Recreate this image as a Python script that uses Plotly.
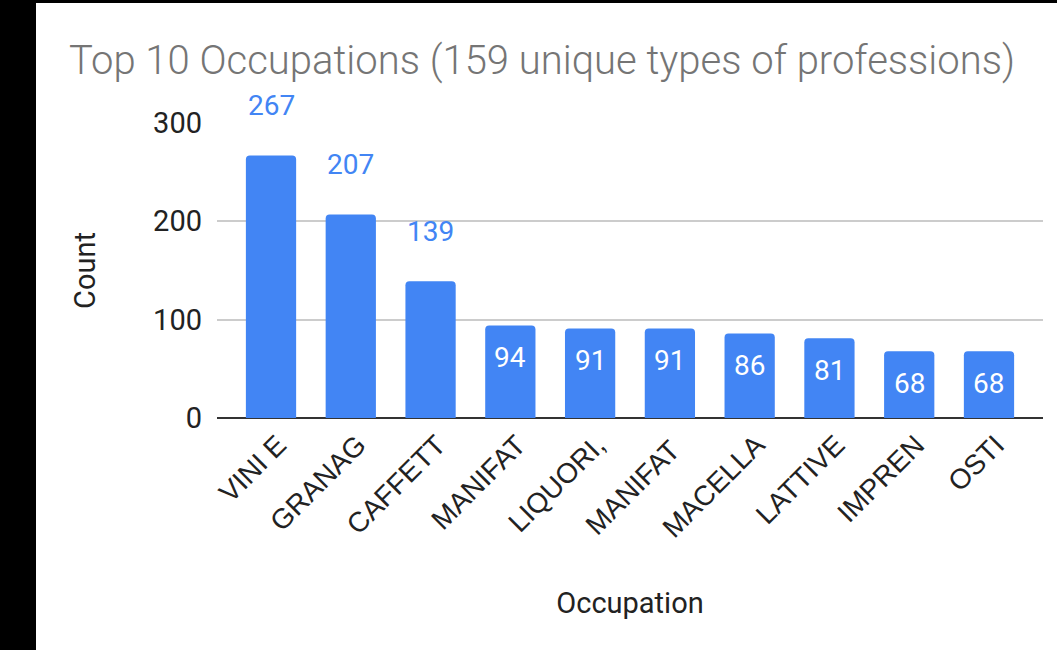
import plotly.graph_objects as go

categories = ["VINI E", "GRANAG", "CAFFETT", "MANIFAT", "LIQUORI,", "MANIFAT ", "MACELLA", "LATTIVE", "IMPREN", "OSTI"]
counts = [267, 207, 139, 94, 91, 91, 86, 81, 68, 68]
y_ticks = [0, 100, 200, 300]

BLUE = "#4285F4"
INSIDE_MIN = 100  # values below this get their label inside the bar

fig = go.Figure()
fig.add_trace(go.Bar(
    x=categories, y=counts,
    marker=dict(color=BLUE, cornerradius=4, line=dict(width=0)),
    width=0.63,
    hoverinfo="x+y",
))

annotations = []
for c, v in zip(categories, counts):
    inside = v < INSIDE_MIN
    annotations.append(dict(
        x=c, y=v, xref="x", yref="y", text=str(v), showarrow=False,
        yanchor="middle", xanchor="center",
        yshift=-32 if inside else 50,
        font=dict(family="Roboto", size=28, color="white" if inside else BLUE),
    ))

fig.update_layout(
    width=1057, height=650,
    paper_bgcolor="black", plot_bgcolor="white",
    margin=dict(l=217, r=14, t=123, b=232),
    title=dict(
        text="Top 10 Occupations (159 unique types of professions)",
        x=69/1057, xanchor="left", xref="container",
        y=1-60/650, yanchor="middle", yref="container",
        font=dict(family="Roboto", size=40, color="#757575", weight=300),
    ),
    showlegend=False,
    annotations=annotations,
    shapes=[dict(type="rect", xref="paper", yref="paper", layer="below",
                 x0=(36-217)/826, x1=2,
                 y0=-1, y1=(650-3-232)/295,
                 fillcolor="white", line=dict(width=0))],
)

fig.update_xaxes(
    range=[-0.677, 9.677],
    tickangle=-45,
    tickfont=dict(family="Liberation Sans", size=28, color="#222"),
    showgrid=False, zeroline=False, showline=False,
    ticks="", ticklabelstandoff=4, ticklabelshift=7,
    title=dict(text="Occupation", standoff=50,
               font=dict(family="Roboto", size=29, color="#222")),
    automargin=False,
)
fig.update_yaxes(
    range=[0, 300],
    tickvals=y_ticks,
    tickfont=dict(family="Roboto", size=29, color="#222"),
    showgrid=True, gridcolor="#cccccc", gridwidth=1.5,
    zeroline=True, zerolinecolor="#333333", zerolinewidth=2,
    showline=False, ticks="", ticklabelstandoff=14,
    title=dict(text="Count", standoff=48,
               font=dict(family="Roboto", size=29, color="#222")),
    automargin=False,
)

fig.write_html(
    "out.html",
    config={"displayModeBar": False},
    post_script="document.body.style.margin='0';document.body.style.overflow='hidden';",
)
